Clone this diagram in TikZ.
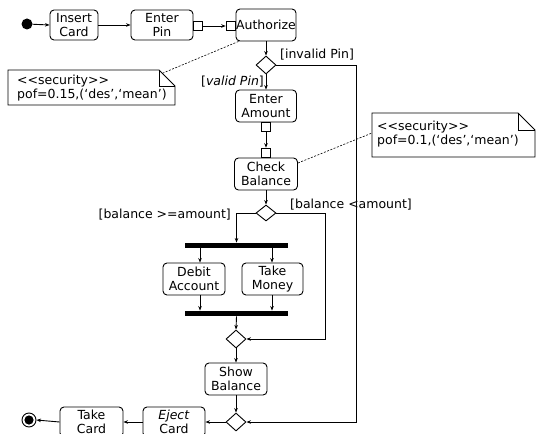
\documentclass[tikz,border=0pt]{standalone}
\usepackage{fontspec}
\setmainfont{DejaVu Sans}[Ligatures=TeXOff]
\usetikzlibrary{arrows.meta,shapes.geometric,calc}
\begin{document}
\begin{tikzpicture}[x=1pt,y=-1pt,
  txt/.style={font=\fontsize{12.5}{14}\selectfont},
  act/.style={txt,draw,rounded corners=4pt,line width=0.9pt,inner sep=0pt,align=center,minimum height=32pt},
  pinbox/.style={draw,line width=0.8pt,minimum width=9pt,minimum height=9pt,inner sep=0pt},
  dec/.style={draw,diamond,line width=0.9pt,inner sep=0pt,minimum width=20pt,minimum height=18pt},
  bar/.style={fill=black,inner sep=0pt,minimum height=5.5pt,minimum width=103pt},
  flow/.style={line width=0.9pt,-{Stealth[length=4.5pt,width=3.5pt]}},
  lbl/.style={txt,inner sep=0pt},
  notebox/.style={line width=0.8pt},
  dotline/.style={line width=0.6pt,dash pattern=on 2pt off 1.5pt}
]
\useasboundingbox (0,0) rectangle (537,433);
\clip (0,0) rectangle (537,433);

% activity nodes
\node[circle,fill,minimum size=11pt,inner sep=0pt] (init) at (27,24) {};
\node[act,minimum width=48pt,minimum height=30pt] (insert) at (74,25) {Insert\\Card};
\node[act,minimum width=62pt,minimum height=30pt] (enterpin) at (162,25) {Enter\\Pin};
\node[pinbox,anchor=west] (p1) at ($(enterpin.east)+(0,1)$) {};
\node[act,minimum width=60pt] (authorize) at (266,25) {Authorize};
\node[pinbox,anchor=east] (p2) at ($(authorize.west)+(0,1)$) {};
\node[dec] (d1) at (266,65) {};
\node[act,minimum width=61pt] (enteramount) at (266,106) {Enter\\Amount};
\node[pinbox,anchor=north] (p3) at (enteramount.south) {};
\node[act,minimum width=63pt] (checkbalance) at (266,174) {Check\\Balance};
\node[pinbox,anchor=south] (p4) at (checkbalance.north) {};
\node[dec,minimum height=16pt] (d2) at (266,213) {};
\node[bar] (fork1) at (236.5,245.5) {};
\node[act,minimum width=62pt] (debit) at (194,279) {Debit\\Account};
\node[act,minimum width=61pt] (takemoney) at (272.5,279) {Take\\Money};
\node[bar] (fork2) at (236.5,313.5) {};
\node[dec] (d3) at (236,339) {};
\node[act,minimum width=62pt] (showbalance) at (236,379) {Show\\Balance};
\node[dec] (d4) at (236,422) {};
\node[act,minimum width=62pt,minimum height=30pt] (eject) at (174,422) {\textit{Eject}\\Card};
\node[act,minimum width=63pt,minimum height=30pt] (takecard) at (91.5,422) {Take\\Card};
\node[circle,draw,line width=0.9pt,minimum size=14pt,inner sep=0pt] (final) at (29,420) {};
\fill (final.center) circle (4.6pt);

\coordinate (ax) at (200,0);
\coordinate (bx) at (272,0);

% flows
\draw[flow] (init) -- (insert.west);
\draw[flow] (insert.east) -- (enterpin.west);
\draw[flow] (p1.east) -- (p2.west);
\draw[flow] (authorize.south) -- (d1.north);
\draw[flow] (d1.south) -- (enteramount.north);
\draw[flow] (p3.south) -- (p4.north);
\draw[flow] (checkbalance.south) -- (d2.north);
\draw[flow] (d2.west) -| (fork1.north);
\draw[flow] (fork1.south -| ax) -- (debit.north -| ax);
\draw[flow] (fork1.south -| bx) -- (takemoney.north -| bx);
\draw[flow] (debit.south -| ax) -- (fork2.north -| ax);
\draw[flow] (takemoney.south -| bx) -- (fork2.north -| bx);
\draw[flow] (fork2.south) -- (d3.north);
\draw[flow] (d2.east) -- (325,213) -- (325,339) -- (d3.east);
\draw[flow] (d3.south) -- (showbalance.north);
\draw[flow] (showbalance.south) -- (d4.north);
\draw[flow] (d1.east) -- (356,65) -- (356,422) -- (d4.east);
\draw[flow] (d4.west) -- (eject.east);
\draw[flow] (eject.west) -- (takecard.east);
\draw[flow] (takecard.west) -- (final.east);

% guards
\node[lbl,anchor=west] (g1) at (280,55) {[invalid Pin]};
\node[lbl,anchor=east] (g2) at (264,82) {[\textit{valid Pin}]};
\node[lbl,anchor=west] (g3) at (290,205) {[balance <amount]};
\node[lbl,anchor=east] (g4) at (231,215) {[balance >=amount]};

% note 1
\coordinate (n1a) at (8,70);
\coordinate (n1b) at (159,70);
\coordinate (n1c) at (175,86);
\coordinate (n1d) at (175,105);
\coordinate (n1e) at (8,105);
\draw[notebox] (n1a) -- (n1b) -- (n1c) -- (n1d) -- (n1e) -- cycle;
\draw[notebox] (n1b) -- (159,86) -- (n1c);
\node[lbl,anchor=west,align=left] (n1t) at (17,88.5) {<<security>>\\pof=0.15,(‘des’,‘mean’)};
\coordinate (n1k) at (163,73);
\draw[dotline] ($(authorize.south west)+(3,0)$) -- (n1k);

% note 2
\coordinate (n2a) at (372,113);
\coordinate (n2b) at (518,113);
\coordinate (n2c) at (535,130);
\coordinate (n2d) at (535,157);
\coordinate (n2e) at (372,157);
\draw[notebox] (n2a) -- (n2b) -- (n2c) -- (n2d) -- (n2e) -- cycle;
\draw[notebox] (n2b) -- (518,130) -- (n2c);
\node[lbl,anchor=west,align=left] (n2t) at (377,134) {<<security>>\\pof=0.1,(‘des’,‘mean’)};
\coordinate (n2k) at (372,133);
\draw[dotline] ($(checkbalance.east)+(0,-11)$) -- (n2k);
\end{tikzpicture}
\end{document}
